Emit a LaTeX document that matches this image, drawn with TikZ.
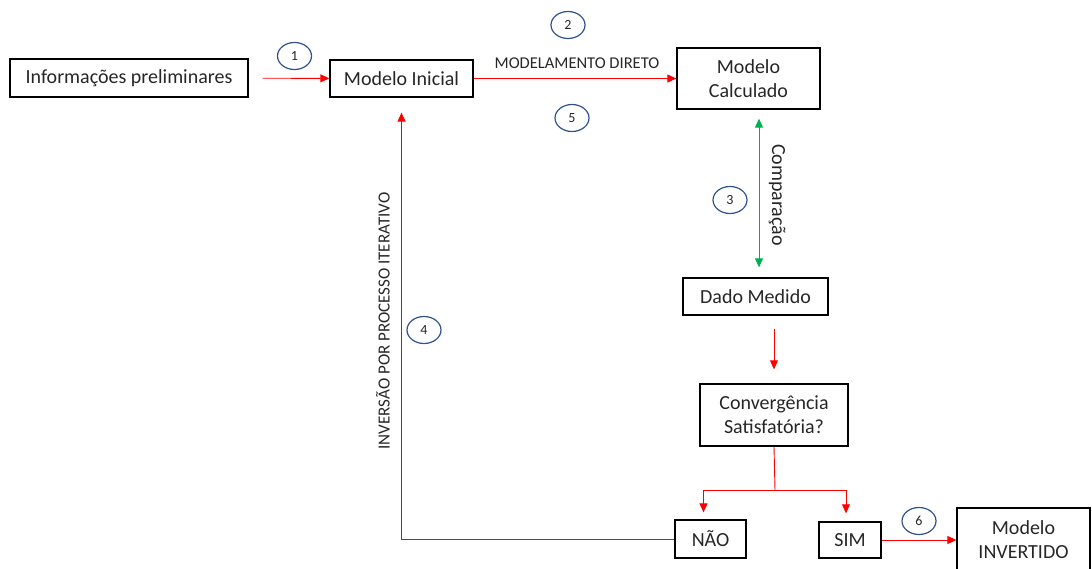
\documentclass[tikz,border=0pt]{standalone}
\usepackage{fontspec}
\setmainfont{Carlito}
\usetikzlibrary{arrows.meta,shapes.geometric}
\definecolor{numblue}{RGB}{47,82,143}
\definecolor{flowred}{RGB}{255,0,0}
\definecolor{cmpgreen}{RGB}{0,176,80}
\tikzset{
  stepbox/.style={draw=black, line width=1.3pt, align=center, inner sep=0pt, text=black!85, font=\fontsize{20}{24}\selectfont},
  numcirc/.style={ellipse, draw=numblue, line width=1.2pt, inner sep=0pt, minimum width=34pt, minimum height=27pt, text=black!85, font=\fontsize{14}{16}\selectfont},
  flowarrow/.style={-{Triangle[length=9pt,width=8pt]}, draw=flowred, line width=0.9pt},
  flowline/.style={draw=flowred, line width=0.9pt},
  cmparrow/.style={{Triangle[length=9pt,width=8pt]}-{Triangle[length=9pt,width=8pt]}, draw=cmpgreen, line width=0.9pt},
  smalllabel/.style={inner sep=0pt, text=black!85, font=\fontsize{16.5}{19}\selectfont}
}

\begin{document}
\begin{tikzpicture}[x=1pt, y=-1pt]
    \useasboundingbox (0,0) rectangle (1092,568);
    \clip (0,0) rectangle (1092,568);
    \node[stepbox, minimum width=238pt, minimum height=38pt] (info) at (129,78) {Informações preliminares};
    \node[stepbox, minimum width=143pt, minimum height=37pt] (inicial) at (401.5,78.5) {Modelo Inicial};
    \node[stepbox, minimum width=143pt, minimum height=61pt] (calc) at (748.5,78.5) {Modelo\\Calculado};
    \node[stepbox, minimum width=145pt, minimum height=37pt] (dado) at (755.5,296.5) {Dado Medido};
    \node[stepbox, minimum width=148pt, minimum height=62pt] (conv) at (774,415) {Convergência\\Satisfatória?};
    \node[stepbox, minimum width=71pt, minimum height=38pt] (nao) at (710.5,539) {NÃO};
    \node[stepbox, minimum width=62pt, minimum height=36pt] (sim) at (850,540) {SIM};
    \node[stepbox, minimum width=133pt, minimum height=64pt] (inv) at (1023.5,540) {Modelo\\INVERTIDO};
    \node[smalllabel] (direto) at (577,63) {MODELAMENTO DIRETO};
    \node[smalllabel, font=\fontsize{17}{20}\selectfont, rotate=90] (iterativo) at (383,321) {INVERSÃO POR PROCESSO ITERATIVO};
    \node[inner sep=0pt, rotate=-90, text=black!85, font=\fontsize{20}{24}\selectfont] (comp) at (777,195) {Comparação};
    \node[numcirc] (n1) at (294.5,56) {1};
    \node[numcirc] (n2) at (568,25) {2};
    \node[numcirc] (n3) at (730,200) {3};
    \node[numcirc] (n4) at (424,330) {4};
    \node[numcirc] (n5) at (572,118) {5};
    \node[numcirc] (n6) at (919,521) {6};
    \coordinate (split) at (775,490);
    \draw[flowarrow, shorten <=14pt] (info) -- (inicial);
    \draw[flowarrow] (inicial) -- (calc);
    \draw[cmparrow, shorten <=9pt, shorten >=10pt] ([xshift=10.5pt]calc.south) -- ([xshift=10.5pt]calc.south |- dado.north);
    \draw[flowarrow, shorten <=13pt, shorten >=14pt] (conv.north |- dado.south) -- (conv.north);
    \draw[flowline] (conv.south) -- (split);
    \draw[flowarrow, shorten >=7pt] (split) -| ([xshift=-7pt]nao.north);
    \draw[flowarrow, shorten >=8pt] (split) -| ([xshift=-4pt]sim.north);
    \draw[flowarrow, shorten >=15pt] (nao.west) -| (inicial.south);
    \draw[flowarrow] (sim) -- (inv);
\end{tikzpicture}
\end{document}
